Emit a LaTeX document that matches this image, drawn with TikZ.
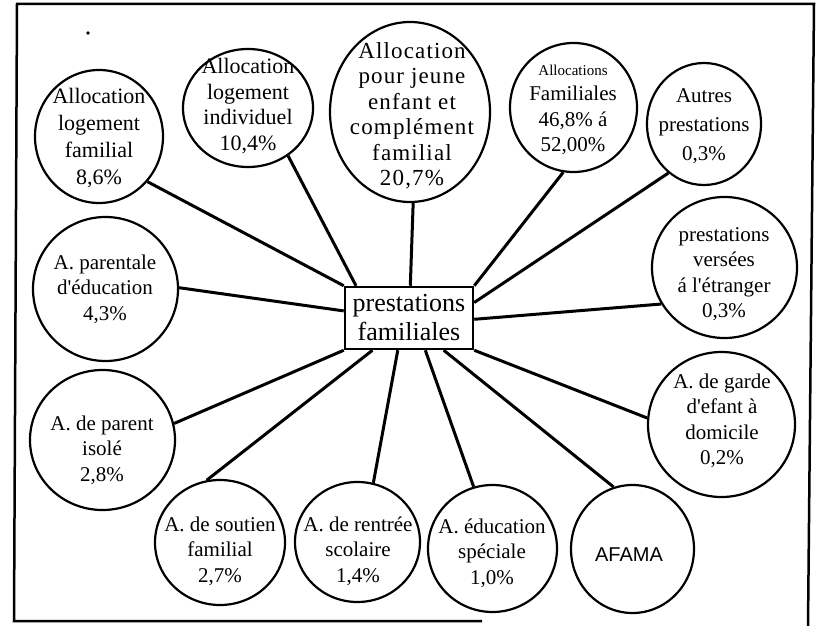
\documentclass[tikz,border=0pt]{standalone}
\usepackage{fontspec}
\setmainfont{Liberation Serif}
\newfontfamily\sansAF{Liberation Sans}
\newfontfamily\circfont{Liberation Serif}
\newfontfamily\widefont[LetterSpace=5]{Liberation Serif}
\usetikzlibrary{shapes.geometric,calc}
\begin{document}
\begin{tikzpicture}[x=1pt,y=-1pt,
  bubble/.style={draw, ellipse, line width=2.2pt, inner sep=0pt},
  bt/.style={inner sep=0pt, align=center, font=\circfont\fontsize{21}{25.5}\selectfont},
  link/.style={line width=3pt},
  framestyle/.style={line width=2.5pt, line join=miter}]
\useasboundingbox (0,0) rectangle (817,626);
% frame
\draw[framestyle] (482,621) -- (14,621) -- (17,4) -- (814,4) -- (808,626);
\fill (88,33) circle (1.8);
% bubbles
\node[bubble, minimum width=128, minimum height=133] (c1) at (99,136.5) {};
\node[bubble, minimum width=130, minimum height=118] (c2) at (248,108) {};
\node[bubble, minimum width=160, minimum height=180] (c3) at (410,112) {};
\node[bubble, minimum width=127, minimum height=129] (c4) at (573.5,107.5) {};
\node[bubble, minimum width=114, minimum height=122] (c5) at (704,124) {};
\node[bubble, minimum width=145, minimum height=141] (c6) at (724.5,267.5) {};
\node[bubble, minimum width=147, minimum height=145] (c7) at (721.5,424.5) {};
\node[bubble, minimum width=123, minimum height=128] (c8) at (632.5,549) {};
\node[bubble, minimum width=129, minimum height=127] (c9) at (492.5,548.5) {};
\node[bubble, minimum width=125, minimum height=120] (c10) at (357.5,542) {};
\node[bubble, minimum width=130, minimum height=125] (c11) at (220,542.5) {};
\node[bubble, minimum width=145, minimum height=140] (c12) at (102.5,440) {};
\node[bubble, minimum width=145, minimum height=144] (c13) at (105.5,289) {};
% texts
\node[bt, font=\circfont\fontsize{22}{27}\selectfont] (t1) at (99,138) {Allocation\\logement\\familial\\8,6\%};
\node[bt, font=\circfont\fontsize{22}{25.5}\selectfont] (t2) at (248,106) {Allocation\\logement\\individuel\\10,4\%};
\node[bt, font=\widefont\fontsize{23}{25.5}\selectfont] (t3) at (412,116) {Allocation\\pour jeune\\enfant et\\complément\\familial\\20,7\%};
\node[bt] (t4) at (573,110) {{\fontsize{15}{25.5}\selectfont Allocations}\\Familiales\\46,8\% á\\52,00\%};
\node[bt, font=\circfont\fontsize{21}{29}\selectfont] (t5) at (704,126) {Autres\\prestations\\0,3\%};
\node[bt] (t6) at (724,274) {prestations\\versées\\á l'étranger\\0,3\%};
\node[bt] (t7) at (722,421) {A. de garde\\d'efant à\\domicile\\0,2\%};
\node[inner sep=0pt, font=\sansAF\fontsize{20}{24}\selectfont] (t8) at (629,555) {AFAMA};
\node[bt] (t9) at (492,553) {A. éducation\\spéciale\\1,0\%};
\node[bt] (t10) at (358,551) {A. de rentrée\\scolaire\\1,4\%};
\node[bt] (t11) at (220,551) {A. de soutien\\familial\\2,7\%};
\node[bt] (t12) at (102,450) {A. de parent\\isolé\\2,8\%};
\node[bt] (t13) at (105,289) {A. parentale\\d'éducation\\4,3\%};
% central box
\node[draw, line width=2.5pt, minimum width=128, minimum height=62, inner sep=0pt,
      font=\fontsize{26}{29}\selectfont, align=center] (box) at (409,318) {prestations\\familiales};
% connectors
\draw[link] (c1.-43) -- (box.north west);
\draw[link] (c2.-50) -- ($(box.north west)!0.094!(box.north east)$);
\draw[link] (c3.-88) -- ($(box.north west)!0.51!(box.north east)$);
\draw[link] (c4.-99) -- (box.north east);
\draw[link] (c5.-126) -- ($(box.north east)!0.26!(box.south east)$);
\draw[link] (c6.-150) -- ($(box.north east)!0.52!(box.south east)$);
\draw[link] (c7.175) -- (box.south east);
\draw[link] (c8.107) -- ($(box.south west)!0.766!(box.south east)$);
\draw[link] (c9.107) -- ($(box.south west)!0.625!(box.south east)$);
\draw[link] (c10.75) -- ($(box.south west)!0.414!(box.south east)$);
\draw[link] (c11.102) -- ($(box.south west)!0.22!(box.south east)$);
\draw[link] (c12.13) -- (box.south west);
\draw[link] (c13.1.5) -- ($(box.north west)!0.39!(box.south west)$);
\end{tikzpicture}
\end{document}
